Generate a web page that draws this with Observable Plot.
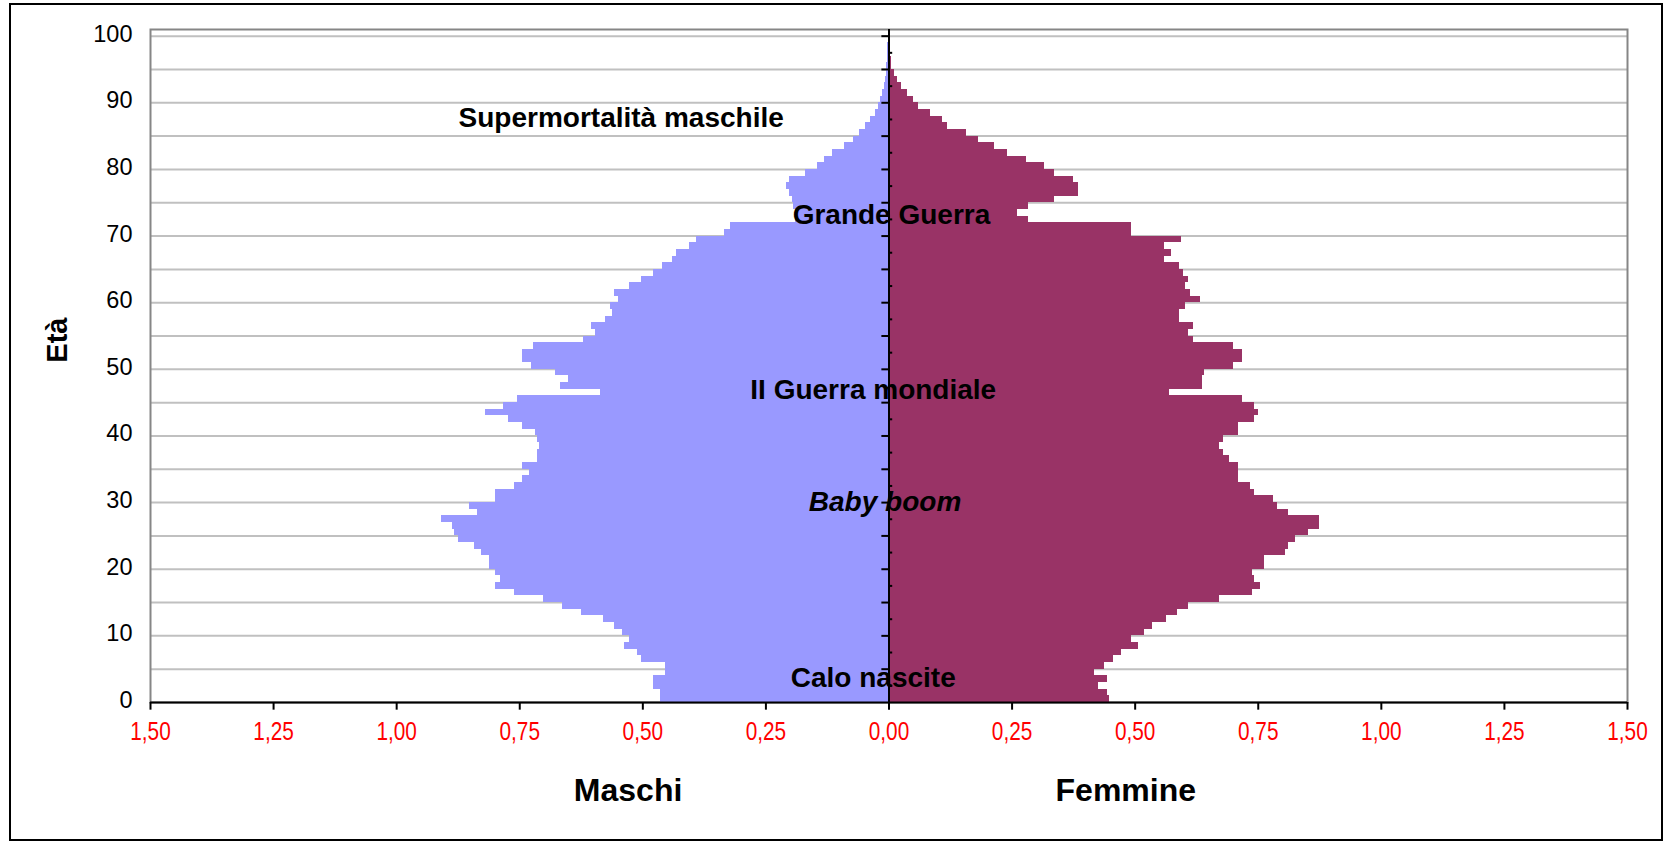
<!DOCTYPE html>
<html>
<head>
<meta charset="utf-8">
<script src="https://cdn.jsdelivr.net/npm/d3@7"></script>
<script src="https://cdn.jsdelivr.net/npm/@observablehq/plot@0.6"></script>
<style>
html, body { margin: 0; padding: 0; background: #fff; }
#wrap { position: relative; width: 1670px; height: 844px; overflow: hidden; background: #fff; }
#chart { position: absolute; left: 0; top: 0; }
#border { position: absolute; left: 9px; top: 3px; width: 1650px; height: 834px; border: 2px solid #000; pointer-events: none; }
</style>
</head>
<body>
<div id="wrap"><div id="chart"></div><div id="border"></div></div>
<script>
// Età 0..100
const ages = d3.range(0, 101);

// Maschi (%), per età 0..100
const maschi = [
  0.465, 0.465, 0.479, 0.479, 0.453, 0.453, 0.502, 0.510, 0.538, 0.528,
  0.542, 0.557, 0.579, 0.624, 0.664, 0.701, 0.760, 0.800, 0.790, 0.800,
  0.812, 0.812, 0.827, 0.841, 0.875, 0.882, 0.886, 0.908, 0.835, 0.853,
  0.800, 0.800, 0.760, 0.745, 0.731, 0.745, 0.713, 0.713, 0.709, 0.713,
  0.719, 0.745, 0.772, 0.819, 0.782, 0.754, 0.587, 0.668, 0.650, 0.678,
  0.727, 0.745, 0.745, 0.723, 0.620, 0.597, 0.605, 0.575, 0.561, 0.565,
  0.550, 0.557, 0.528, 0.502, 0.479, 0.461, 0.439, 0.431, 0.406, 0.390,
  0.335, 0.321, 0.190, 0.190, 0.194, 0.195, 0.203, 0.209, 0.203, 0.169,
  0.146, 0.132, 0.114, 0.091, 0.073, 0.059, 0.047, 0.037, 0.028, 0.022,
  0.018, 0.014, 0.010, 0.008, 0.006, 0.005, 0.004, 0.003, 0.003, 0.002,
  0.002
];

// Femmine (%), per età 0..100
const femmine = [
  0.447, 0.443, 0.425, 0.443, 0.418, 0.437, 0.455, 0.473, 0.506, 0.492,
  0.518, 0.536, 0.563, 0.587, 0.609, 0.672, 0.739, 0.754, 0.743, 0.739,
  0.762, 0.762, 0.806, 0.812, 0.825, 0.853, 0.875, 0.875, 0.812, 0.790,
  0.780, 0.743, 0.735, 0.709, 0.709, 0.709, 0.691, 0.680, 0.672, 0.680,
  0.709, 0.709, 0.743, 0.750, 0.743, 0.717, 0.569, 0.636, 0.636, 0.640,
  0.699, 0.717, 0.717, 0.699, 0.618, 0.609, 0.618, 0.591, 0.591, 0.603,
  0.632, 0.613, 0.603, 0.609, 0.599, 0.591, 0.559, 0.573, 0.559, 0.595,
  0.492, 0.492, 0.284, 0.262, 0.284, 0.337, 0.384, 0.384, 0.374, 0.337,
  0.315, 0.280, 0.240, 0.215, 0.181, 0.158, 0.118, 0.108, 0.085, 0.059,
  0.049, 0.037, 0.026, 0.018, 0.012, 0.006, 0.005, 0.004, 0.003, 0.002,
  0.001
];

// Tick values / labels
const xTicks = [-1.5, -1.25, -1, -0.75, -0.5, -0.25, 0, 0.25, 0.5, 0.75, 1, 1.25, 1.5];
const yTickLabels = [0, 10, 20, 30, 40, 50, 60, 70, 80, 90, 100];
const gridAges = [5, 10, 15, 20, 25, 30, 35, 40, 45, 50, 55, 60, 65, 70, 75, 80, 85, 90, 95, 100];
const minorAges = [2.5, 7.5, 12.5, 17.5, 22.5, 27.5, 32.5, 37.5, 42.5, 47.5, 52.5, 57.5, 62.5, 67.5, 72.5, 77.5, 82.5, 87.5, 92.5, 97.5];

// Annotazioni (testo, età, valore)
const noteLabels = ["Supermortalità maschile", "Grande Guerra", "II Guerra mondiale", "Baby boom", "Calo nascite"];
const noteAges = [87.7, 73.1, 46.9, 30.1, 3.7];
const noteValues = [-0.544, 0.005, -0.032, -0.008, -0.032];
const noteItalic = [false, false, false, true, false];

const sideLabels = ["Maschi", "Femmine"];
const sideValues = [-0.53, 0.481];
const yTitle = "Età";

const fmt = d => Math.abs(d).toFixed(2).replace(".", ",");
const notes = noteLabels.map((t, i) => ({t, age: noteAges[i], v: noteValues[i], italic: noteItalic[i]}));
const sides = sideLabels.map((t, i) => ({t, v: sideValues[i]}));

const chart = Plot.plot({
  width: 1670,
  height: 844,
  marginTop: 29,
  marginRight: 43,
  marginBottom: 142,
  marginLeft: 150,
  x: {domain: [-1.5, 1.5], axis: null},
  y: {domain: [0, 101], axis: null},
  style: {fontFamily: "'Liberation Sans', Arial, sans-serif", background: "transparent", overflow: "visible", color: "#000"},
  marks: [
    Plot.ruleY(gridAges, {y: d => d, stroke: "#c0c0c0", strokeWidth: 2}),
    Plot.frame({stroke: "#868686", strokeWidth: 2}),
    Plot.rect(ages, {x1: d => -maschi[d], x2: 0, y1: d => d, y2: d => d + 1, fill: "#9999ff", shapeRendering: "crispEdges"}),
    Plot.rect(ages, {x1: 0, x2: d => femmine[d], y1: d => d, y2: d => d + 1, fill: "#993366", shapeRendering: "crispEdges"}),
    Plot.ruleX([0], {x: d => d, stroke: "#000", strokeWidth: 2}),
    Plot.ruleY(gridAges, {y: d => d, x1: -0.0145, x2: 0, stroke: "#000", strokeWidth: 2}),
    Plot.ruleY(minorAges, {y: d => d, x1: 0, x2: 0.0075, stroke: "#000", strokeWidth: 2}),
    Plot.ruleY([0], {y: d => d, stroke: "#000", strokeWidth: 2}),
    Plot.ruleX(xTicks, {x: d => d, y1: 0, y2: -1.15, stroke: "#000", strokeWidth: 2}),
    Plot.text(xTicks, {x: d => d, text: fmt, frameAnchor: "bottom", dy: 37, fontSize: 26, fill: "#ff0000"}),
    Plot.text(yTickLabels, {y: d => d, text: d => String(d), frameAnchor: "left", dx: -18, dy: -2, textAnchor: "end", fontSize: 23.5, fill: "#000"}),
    Plot.text([yTitle], {text: d => d, y: 51, frameAnchor: "left", dx: -93, rotate: -90, fontSize: 29, fontWeight: "bold", fill: "#000"}),
    Plot.text(sides, {x: "v", text: "t", frameAnchor: "bottom", dy: 98, fontSize: 32, fontWeight: "bold", fill: "#000"}),
    Plot.text(notes.filter(d => !d.italic), {x: "v", y: "age", text: "t", fontSize: 28, fontWeight: "bold", fill: "#000"}),
    Plot.text(notes.filter(d => d.italic), {x: "v", y: "age", text: "t", fontSize: 28, fontWeight: "bold", fontStyle: "italic", fill: "#000"})
  ]
});
document.getElementById("chart").appendChild(chart);

// Condense the red x tick labels (as in the reference rendering)
d3.select(chart).selectAll("text").each(function() {
  const s = this.textContent;
  if (/^\d,\d\d$/.test(s)) {
    const w = this.getComputedTextLength();
    this.setAttribute("textLength", (w * 0.8).toFixed(1));
    this.setAttribute("lengthAdjust", "spacingAndGlyphs");
  }
});
</script>
</body>
</html>
